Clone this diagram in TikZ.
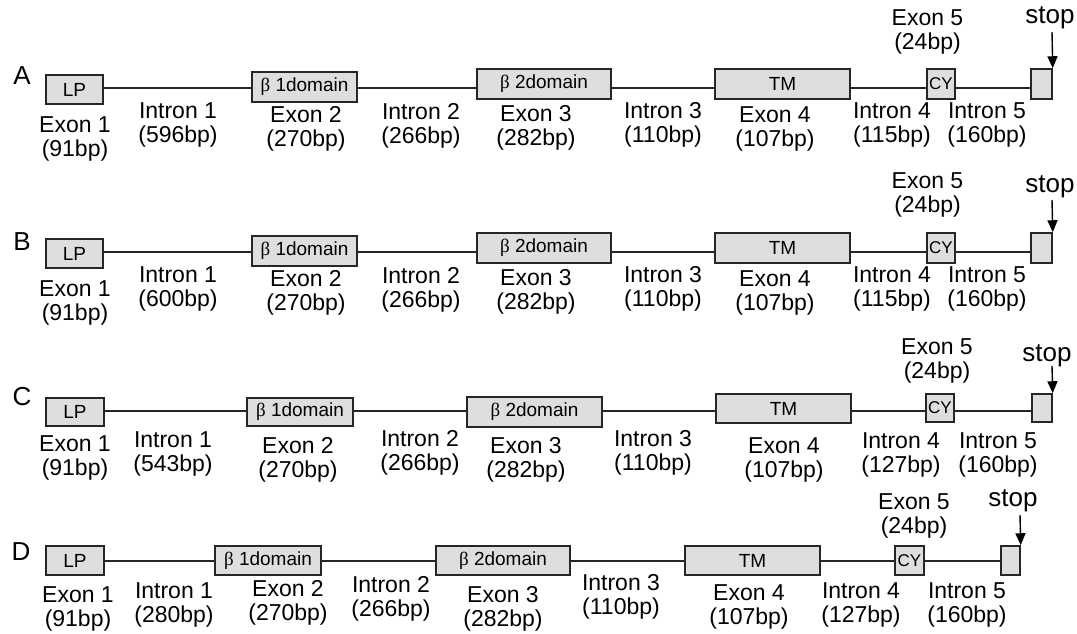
\documentclass[tikz,border=0pt]{standalone}
\usepackage{fontspec}
\setmainfont{Liberation Sans}
\newfontfamily\grk{Liberation Serif}
\usetikzlibrary{arrows.meta}
\tikzset{
  exonbox/.style={draw=black!85, fill=black!13, line width=1.5pt, inner sep=0pt,
    font=\fontsize{19}{19}\selectfont},
  cybox/.style={font=\fontsize{17}{17}\selectfont},
  intron/.style={draw=black!85, line width=1.5pt},
  lbl/.style={align=center, inner sep=0pt, font=\fontsize{23}{24}\selectfont},
  stoplbl/.style={inner sep=0pt, font=\fontsize{26}{26}\selectfont},
  rowlbl/.style={inner sep=0pt, font=\fontsize{26}{26}\selectfont},
  stoparrow/.style={draw=black, line width=1.4pt, -{Triangle[length=12pt,width=10pt]}},
}
\begin{document}
\begin{tikzpicture}[x=1pt,y=-1pt]
\useasboundingbox (0,0) rectangle (1077,634);

% ---------------- row A ----------------
\coordinate (lA) at (0,88);
\node[rowlbl] (rA) at (22,76) {A};
\node[exonbox, minimum width=57pt,  minimum height=29pt] (A1) at (74.5,89.5) {LP};
\node[exonbox, minimum width=105pt, minimum height=30pt] (A2) at (304.5,87) {{\grk β} 1domain};
\node[exonbox, minimum width=134pt, minimum height=30pt] (A3) at (544,84) {{\grk β} 2domain};
\node[exonbox, minimum width=135pt, minimum height=30pt] (A4) at (782.5,84) {TM};
\node[exonbox, cybox, minimum width=28pt, minimum height=30pt] (A5) at (941,84) {CY};
\node[exonbox, minimum width=21pt,  minimum height=30pt] (A6) at (1041.5,84) {};
\foreach \a/\b in {A1/A2,A2/A3,A3/A4,A4/A5,A5/A6}
  \draw[intron] (\a.east |- lA) -- (\b.west |- lA);
\node[stoplbl] (stA) at (1050,18) {stop};
\coordinate (sA) at (1052,32);
\draw[stoparrow] (sA) -- (A6.north east);
\node[lbl] (tA5) at (927.5,32) {Exon 5\\(24bp)};
\node[lbl] (tA1) at (75,139)  {Exon 1\\(91bp)};
\node[lbl] (iA1) at (178,125) {Intron 1\\(596bp)};
\node[lbl] (tA2) at (306,129) {Exon 2\\(270bp)};
\node[lbl] (iA2) at (421,126) {Intron 2\\(266bp)};
\node[lbl] (tA3) at (536,128) {Exon 3\\(282bp)};
\node[lbl] (iA3) at (663,125) {Intron 3\\(110bp)};
\node[lbl] (tA4) at (775,129) {Exon 4\\(107bp)};
\node[lbl] (iA4) at (892,125) {Intron 4\\(115bp)};
\node[lbl] (iA5) at (987,125) {Intron 5\\(160bp)};

% ---------------- row B ----------------
\coordinate (lB) at (0,252);
\node[rowlbl] (rB) at (22,242) {B};
\node[exonbox, minimum width=57pt,  minimum height=29pt] (B1) at (74.5,253.5) {LP};
\node[exonbox, minimum width=105pt, minimum height=30pt] (B2) at (304.5,251) {{\grk β} 1domain};
\node[exonbox, minimum width=134pt, minimum height=30pt] (B3) at (544,248) {{\grk β} 2domain};
\node[exonbox, minimum width=135pt, minimum height=30pt] (B4) at (782.5,248) {TM};
\node[exonbox, cybox, minimum width=28pt, minimum height=30pt] (B5) at (941,248) {CY};
\node[exonbox, minimum width=21pt,  minimum height=30pt] (B6) at (1041.5,248) {};
\foreach \a/\b in {B1/B2,B2/B3,B3/B4,B4/B5,B5/B6}
  \draw[intron] (\a.east |- lB) -- (\b.west |- lB);
\node[stoplbl] (stB) at (1050,187) {stop};
\coordinate (sB) at (1052,200);
\draw[stoparrow] (sB) -- (B6.north east);
\node[lbl] (tB5) at (927.5,195) {Exon 5\\(24bp)};
\node[lbl] (tB1) at (75,303)  {Exon 1\\(91bp)};
\node[lbl] (iB1) at (178,289) {Intron 1\\(600bp)};
\node[lbl] (tB2) at (306,293) {Exon 2\\(270bp)};
\node[lbl] (iB2) at (421,290) {Intron 2\\(266bp)};
\node[lbl] (tB3) at (536,292) {Exon 3\\(282bp)};
\node[lbl] (iB3) at (663,289) {Intron 3\\(110bp)};
\node[lbl] (tB4) at (775,293) {Exon 4\\(107bp)};
\node[lbl] (iB4) at (892,289) {Intron 4\\(115bp)};
\node[lbl] (iB5) at (987,289) {Intron 5\\(160bp)};

% ---------------- row C ----------------
\coordinate (lC) at (0,411);
\node[rowlbl] (rC) at (22,397) {C};
\node[exonbox, minimum width=58pt,  minimum height=28pt] (C1) at (75,412) {LP};
\node[exonbox, minimum width=106pt, minimum height=28pt] (C2) at (300,412) {{\grk β} 1domain};
\node[exonbox, minimum width=135pt, minimum height=30pt] (C3) at (534.5,412) {{\grk β} 2domain};
\node[exonbox, minimum width=135pt, minimum height=29pt] (C4) at (783.5,408.5) {TM};
\node[exonbox, cybox, minimum width=28pt, minimum height=28pt] (C5) at (940,408) {CY};
\node[exonbox, minimum width=20pt,  minimum height=28pt] (C6) at (1042,408) {};
\foreach \a/\b in {C1/C2,C2/C3,C3/C4,C4/C5,C5/C6}
  \draw[intron] (\a.east |- lC) -- (\b.west |- lC);
\node[stoplbl] (stC) at (1047,356) {stop};
\coordinate (sC) at (1052,366);
\draw[stoparrow] (sC) -- (C6.north east);
\node[lbl] (tC5) at (937,361) {Exon 5\\(24bp)};
\node[lbl] (tC1) at (75,458)  {Exon 1\\(91bp)};
\node[lbl] (iC1) at (173,454) {Intron 1\\(543bp)};
\node[lbl] (tC2) at (298,460) {Exon 2\\(270bp)};
\node[lbl] (iC2) at (420,453) {Intron 2\\(266bp)};
\node[lbl] (tC3) at (526,460) {Exon 3\\(282bp)};
\node[lbl] (iC3) at (653,453) {Intron 3\\(110bp)};
\node[lbl] (tC4) at (784,460) {Exon 4\\(107bp)};
\node[lbl] (iC4) at (901,455) {Intron 4\\(127bp)};
\node[lbl] (iC5) at (998,455) {Intron 5\\(160bp)};

% ---------------- row D ----------------
\coordinate (lD) at (0,561);
\node[rowlbl] (rD) at (21,552) {D};
\node[exonbox, minimum width=58pt,  minimum height=29pt] (D1) at (75,560.5) {LP};
\node[exonbox, minimum width=106pt, minimum height=29pt] (D2) at (268,560.5) {{\grk β} 1domain};
\node[exonbox, minimum width=134pt, minimum height=29pt] (D3) at (503,560.5) {{\grk β} 2domain};
\node[exonbox, minimum width=135pt, minimum height=29pt] (D4) at (752.5,560.5) {TM};
\node[exonbox, cybox, minimum width=29pt, minimum height=29pt] (D5) at (909.5,560.5) {CY};
\node[exonbox, minimum width=19pt,  minimum height=29pt] (D6) at (1010.5,560.5) {};
\foreach \a/\b in {D1/D2,D2/D3,D3/D4,D4/D5,D5/D6}
  \draw[intron] (\a.east |- lD) -- (\b.west |- lD);
\node[stoplbl] (stD) at (1013,501) {stop};
\coordinate (sD) at (1020,515);
\draw[stoparrow] (sD) -- (D6.north east);
\node[lbl] (tD5) at (914,516) {Exon 5\\(24bp)};
\node[lbl] (tD1) at (78,609)  {Exon 1\\(91bp)};
\node[lbl] (iD1) at (174,605) {Intron 1\\(280bp)};
\node[lbl] (tD2) at (288,603) {Exon 2\\(270bp)};
\node[lbl] (iD2) at (391,599) {Intron 2\\(266bp)};
\node[lbl] (tD3) at (503,609) {Exon 3\\(282bp)};
\node[lbl] (iD3) at (621,597) {Intron 3\\(110bp)};
\node[lbl] (tD4) at (749,607) {Exon 4\\(107bp)};
\node[lbl] (iD4) at (861,605) {Intron 4\\(127bp)};
\node[lbl] (iD5) at (967,605) {Intron 5\\(160bp)};
\end{tikzpicture}
\end{document}
